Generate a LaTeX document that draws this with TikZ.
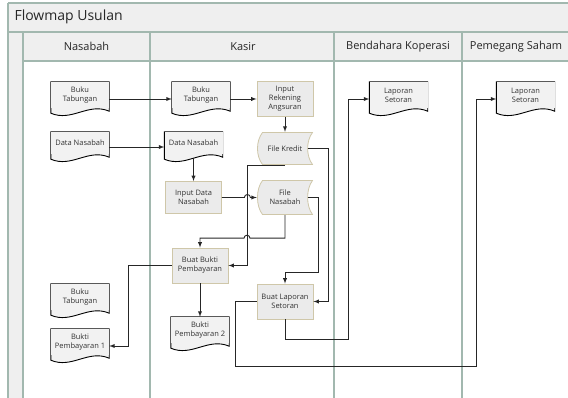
\documentclass[tikz,border=0pt]{standalone}
\usepackage{fontspec}
\newfontfamily\uifont{Open Sans}
\usetikzlibrary{positioning}
\definecolor{lanecol}{HTML}{A2B8AF}
\definecolor{bandcol}{HTML}{EFEFEF}
\definecolor{docfill}{HTML}{F2F2F2}
\definecolor{procfill}{HTML}{EBEBEB}
\definecolor{procline}{HTML}{CFC7A9}
\definecolor{txtcol}{HTML}{333333}
\newcommand\boxfont{\uifont\fontsize{7.5}{9}\selectfont}

\begin{document}
\begin{tikzpicture}[x=1pt, y=-1pt, >=latex,
        lane/.style={lanecol, line width=1.5pt},
        flow/.style={->, line width=0.9pt, black!85},
        proc/.style={rectangle, draw=procline, fill=procfill, line width=0.8pt,
            minimum width=56, minimum height=35, inner sep=1pt, align=center,
            font=\boxfont, text=txtcol},
        store/.style={rectangle, fill=white, minimum width=56, minimum height=35,
            inner sep=1pt, align=center, font=\boxfont, text=txtcol,
            path picture={\filldraw[fill=procfill, draw=procline, line width=0.8pt]
                ([shift={(5.5,0.5)}]path picture bounding box.north west)
                -- ([shift={(-0.5,0.5)}]path picture bounding box.north east)
                .. controls ([shift={(-7,9)}]path picture bounding box.north east)
                and ([shift={(-7,-9)}]path picture bounding box.south east)
                .. ([shift={(-0.5,-0.5)}]path picture bounding box.south east)
                -- ([shift={(5.5,-0.5)}]path picture bounding box.south west)
                .. controls ([shift={(-1.2,-9)}]path picture bounding box.south west)
                and ([shift={(-1.2,9)}]path picture bounding box.north west)
                .. cycle;}},
        doc/.style={rectangle, fill=docfill, minimum width=58, minimum height=26,
            inner sep=1pt, align=center, font=\boxfont, text=txtcol,
            append after command={\pgfextra{\let\docnode\tikzlastnode
                \fill[docfill] (\docnode.south west) -- (\docnode.south east)
                    -- ([shift={(0,3)}]\docnode.south east)
                    .. controls ([shift={(-21,-6)}]\docnode.south east)
                    and ([shift={(21,14)}]\docnode.south west)
                    .. ([shift={(0,5)}]\docnode.south west) -- cycle;
                \draw[line width=0.9pt] (\docnode.north west) -- (\docnode.north east)
                    -- ([shift={(0,3)}]\docnode.south east)
                    .. controls ([shift={(-21,-6)}]\docnode.south east)
                    and ([shift={(21,14)}]\docnode.south west)
                    .. ([shift={(0,5)}]\docnode.south west) -- cycle;}}}]
        \useasboundingbox (0,0) rectangle (568,398);

        % pool and lanes
        \fill[bandcol] (8,3) rectangle (568,32);
        \fill[bandcol] (23,32) rectangle (568,61);
        \fill[bandcol] (8,32) rectangle (23,398);
        \draw[lane] (8,3) -- (568,3);
        \draw[lane] (8,3) -- (8,398);
        \draw[lane] (8,32) -- (568,32);
        \draw[lane] (23,61) -- (568,61);
        \foreach \lx in {23,150,334,462}
            \draw[lane] (\lx,32) -- (\lx,398);
        \node[anchor=west, font=\uifont\fontsize{14}{16}\selectfont, text=black!85] (pool) at (11,17) {Flowmap Usulan};
        \node[font=\uifont\fontsize{11}{13}\selectfont, text=black!85] (nasabah) at (86.5,46.5) {Nasabah};
        \node[font=\uifont\fontsize{11}{13}\selectfont, text=black!85] (kasir) at (243,46.5) {Kasir};
        \node[font=\uifont\fontsize{11}{13}\selectfont, text=black!85] (bendahara) at (398,46.5) {Bendahara Koperasi};
        \node[font=\uifont\fontsize{11}{13}\selectfont, text=black!85] (pemegang) at (516,46.5) {Pemegang Saham};

        % Nasabah
        \node[doc] (bukuN) at (80,95) {Buku\\Tabungan};
        \node[doc, minimum height=22] (dataN) at (80,143) {Data Nasabah};
        \node[doc] (bukuN2) at (80,297) {Buku\\Tabungan};
        \node[doc] (bp1) at (80,342) {Bukti\\Pembayaran 1};

        % Kasir
        \node[doc] (bukuK) at (201,95) {Buku\\Tabungan};
        \node[doc, minimum height=22] (dataK) at (193.5,143) {Data Nasabah};
        \node[proc] (inRek) at (285,99) {Input\\Rekening\\Angsuran};
        \node[store, minimum height=33] (fKredit) at (285,148.5) {File Kredit};
        \node[proc, minimum height=32] (inData) at (193.5,197.5) {Input Data\\Nasabah};
        \node[store] (fNasabah) at (285,197.5) {File\\Nasabah};
        \node[proc] (bukti) at (200,265.5) {Buat Bukti\\Pembayaran};
        \node[doc] (bp2) at (200,330) {Bukti\\Pembayaran 2};
        \node[proc] (lapSet) at (285,301.5) {Buat Laporan\\Setoran};

        % Bendahara Koperasi, Pemegang Saham
        \node[doc] (lsB) at (398.5,95) {Laporan\\Setoran};
        \node[doc] (lsP) at (525.5,95) {Laporan\\Setoran};

        % flows
        \draw[flow] ([yshift=-4pt]bukuN.east) -- ([yshift=-4pt]bukuK.west);
        \draw[flow] ([yshift=-4pt]bukuK.east) -- (inRek.west);
        \draw[flow] (inRek.south) -- (fKredit.north);
        \draw[flow] ([yshift=-4pt]dataN.east) -- ([yshift=-4pt]dataK.west);
        \draw[flow] ([yshift=-4pt]dataK.south) -- (inData.north);
        \draw[flow] (inData.east) -- ([xshift=22.5pt]inData.east)
            arc[start angle=180, end angle=0, radius=3pt] -- (fNasabah.west);
        \draw[flow] (fKredit.south) -- ++(-38,0) |- (bukti.east);
        \draw[flow] (fNasabah.south) -- ++(0,23) -- ++(-35,0)
            arc[start angle=0, end angle=180, radius=3pt] -| (bukti.north);
        \draw[flow] ([xshift=-5pt]fKredit.east) -- ++(20,0) |- (lapSet.east);
        \draw[flow] ([xshift=-5pt]fNasabah.east) -- ++(10,0)
            |- ([yshift=11pt]lapSet.north) -- (lapSet.north);
        \draw[flow] (bukti.west) -- ++(-43,0) |- ([yshift=-4pt]bp1.east);
        \draw[flow] (bukti.south) -- (bp2.north);
        \draw[flow] (lapSet.west) -- ++(-21,0) -- ++(0,64.5)
            -| ([xshift=-20pt,yshift=-4pt]lsP.west) -- ([yshift=-4pt]lsP.west);
        \draw[flow] (lapSet.south) -- ++(0,20)
            -| ([xshift=-21pt,yshift=-4pt]lsB.west) -- ([yshift=-4pt]lsB.west);
\end{tikzpicture}
\end{document}
